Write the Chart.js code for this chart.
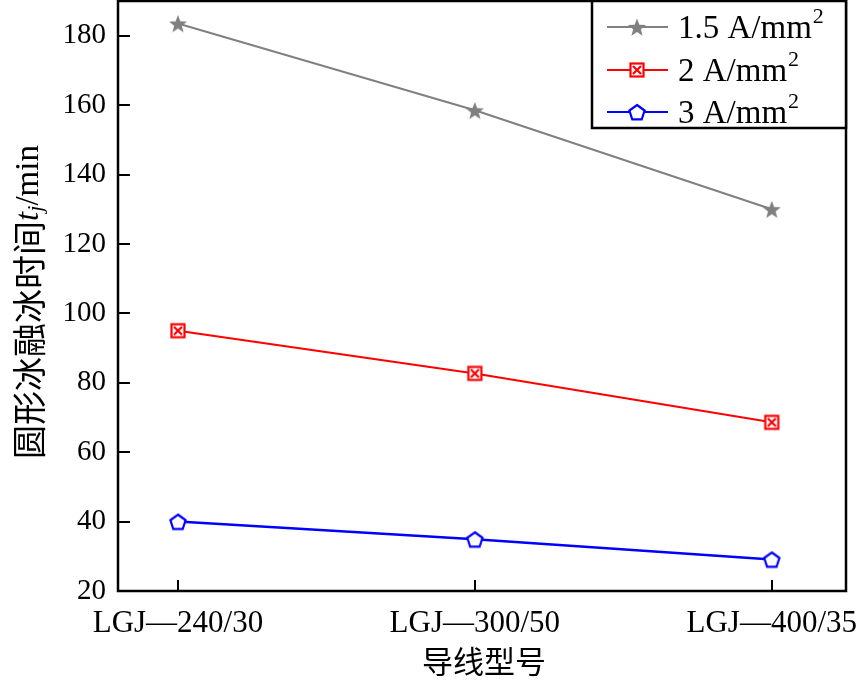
<!DOCTYPE html>
<html>
<head>
<meta charset="utf-8">
<script src="https://cdn.jsdelivr.net/npm/chart.js@4/dist/chart.umd.min.js"></script>
<style>
  body { margin: 0; background: #fff; }
  #wrap { width: 866px; height: 684px; }
</style>
</head>
<body>
<div id="wrap"><canvas id="basechart"></canvas></div>
<script>
// Conductor types (x categories)
const categories = ['LGJ—240/30', 'LGJ—300/50', 'LGJ—400/35'];
// Melting time t_j (min) per current density
const series15 = [183.5, 158.5, 130];
const series2 = [95, 82.7, 68.6];
const series3 = [40, 34.9, 29.1];
const seriesNames = ['1.5 A/mm', '2 A/mm', '3 A/mm'];
const yTicks = [20, 40, 60, 80, 100, 120, 140, 160, 180];

const colors = {
    gray: '#808080',
    red: '#ff0000',
    blue: '#0000ff'
};

const serif = '"Liberation Serif", "Times New Roman", serif';
const cjk = '"Noto Sans CJK SC", sans-serif';

// Build marker images used as point styles
function makeMarker(type) {
    const c = document.createElement('canvas');
    c.width = 22; c.height = 22;
    const g = c.getContext('2d');
    const cx = 11, cy = 11;
    if (type === 'star') {
        g.fillStyle = colors.gray;
        g.beginPath();
        for (let i = 0; i < 10; i++) {
            const r = i % 2 === 0 ? 9.5 : 4;
            const a = -Math.PI / 2 + i * Math.PI / 5;
            g.lineTo(cx + r * Math.cos(a), cy + 1 + r * Math.sin(a));
        }
        g.closePath();
        g.fill();
    } else if (type === 'boxx') {
        g.strokeStyle = colors.red;
        g.lineWidth = 2.2;
        g.fillStyle = '#fff';
        g.fillRect(4.5, 4.5, 13, 13);
        g.strokeRect(4.5, 4.5, 13, 13);
        g.beginPath();
        g.moveTo(7, 7); g.lineTo(15, 15);
        g.moveTo(15, 7); g.lineTo(7, 15);
        g.stroke();
    } else {
        g.strokeStyle = colors.blue;
        g.lineWidth = 2.2;
        g.fillStyle = '#fff';
        g.beginPath();
        for (let i = 0; i < 5; i++) {
            const a = -Math.PI / 2 + i * 2 * Math.PI / 5;
            g.lineTo(cx + 8 * Math.cos(a), cy + 1 + 8 * Math.sin(a));
        }
        g.closePath();
        g.fill();
        g.stroke();
    }
    return c;
}

const markers = [makeMarker('star'), makeMarker('boxx'), makeMarker('pent')];
const lineColors = [colors.gray, colors.red, colors.blue];

function toPoints(arr) {
    return arr.map((v, i) => ({ x: i, y: v }));
}

// Frame, inward ticks, axis titles and legend
const decorPlugin = {
    id: 'decor',
    afterDraw(chart) {
        const ctx = chart.ctx;
        const a = chart.chartArea;
        const xs = chart.scales.x, ys = chart.scales.y;
        ctx.save();
        ctx.strokeStyle = '#000';
        ctx.lineWidth = 2.5;
        ctx.strokeRect(a.left, a.top, a.right - a.left, a.bottom - a.top);

        // inward tick marks
        ctx.lineWidth = 2;
        ctx.beginPath();
        yTicks.forEach(v => {
            const y = Math.round(ys.getPixelForValue(v));
            ctx.moveTo(a.left, y); ctx.lineTo(a.left + 12, y);
        });
        categories.forEach((c, i) => {
            const x = Math.round(xs.getPixelForValue(i));
            ctx.moveTo(x, a.bottom); ctx.lineTo(x, a.bottom - 11);
        });
        ctx.stroke();

        // x title
        ctx.fillStyle = '#000';
        ctx.font = '31px ' + cjk;
        ctx.textAlign = 'center';
        ctx.textBaseline = 'middle';
        ctx.fillText('导线型号', (a.left + a.right) / 2 + 2, 661);

        // y title with subscript
        const parts = [
            { t: '圆形冰融冰时间', f: '34px ' + cjk, dy: 0 },
            { t: 't', f: 'italic 33px ' + serif, dy: 0 },
            { t: 'j', f: 'italic 22px ' + serif, dy: 7 },
            { t: '/min', f: '33px ' + serif, dy: 0 }
        ];
        let total = 0;
        parts.forEach(p => { ctx.font = p.f; p.w = ctx.measureText(p.t).width; total += p.w; });
        ctx.translate(29, 302);
        ctx.rotate(-Math.PI / 2);
        ctx.textAlign = 'left';
        ctx.textBaseline = 'middle';
        let px = -total / 2;
        parts.forEach(p => {
            ctx.font = p.f;
            ctx.fillText(p.t, px, p.dy);
            px += p.w;
        });
        ctx.setTransform(1, 0, 0, 1, 0, 0);

        // legend box
        const lx = 592, ly = a.top, lr = a.right, lb = 128;
        ctx.fillStyle = '#fff';
        ctx.fillRect(lx, ly, lr - lx, lb - ly);
        ctx.strokeStyle = '#000';
        ctx.lineWidth = 2.5;
        ctx.strokeRect(lx, ly, lr - lx, lb - ly);
        const rows = [27, 70, 112];
        seriesNames.forEach((name, i) => {
            const y = rows[i];
            ctx.strokeStyle = lineColors[i];
            ctx.lineWidth = 2;
            ctx.beginPath();
            ctx.moveTo(607, y); ctx.lineTo(668, y);
            ctx.stroke();
            ctx.drawImage(markers[i], 637 - 11, y - 11);
            ctx.fillStyle = '#000';
            ctx.font = '33px ' + serif;
            ctx.textAlign = 'left';
            ctx.textBaseline = 'middle';
            ctx.fillText(name, 678, y + 2);
            const w = ctx.measureText(name).width;
            ctx.font = '22px ' + serif;
            ctx.fillText('2', 678 + w + 1, y - 10);
        });
        ctx.restore();
    }
};

const datasets = [series15, series2, series3].map((s, i) => ({
    label: seriesNames[i] + '2',
    data: toPoints(s),
    borderColor: lineColors[i],
    backgroundColor: lineColors[i],
    borderWidth: i === 2 ? 2.5 : 2,
    pointStyle: markers[i],
    pointRadius: 9,
    tension: 0,
    fill: false
}));

const chart = new Chart(document.getElementById('basechart').getContext('2d'), {
    type: 'line',
    data: { datasets: datasets },
    plugins: [decorPlugin],
    options: {
        responsive: true,
        maintainAspectRatio: false,
        animation: false,
        layout: { padding: { top: 1, right: 20, bottom: 0, left: 0 }, autoPadding: false },
        plugins: {
            legend: { display: false },
            title: { display: false },
            tooltip: { enabled: false }
        },
        scales: {
            x: {
                type: 'linear',
                min: -0.202,
                max: 2.25,
                afterBuildTicks: s => { s.ticks = categories.map((c, i) => ({ value: i })); },
                afterFit: s => { s.height = 93; s.paddingLeft = 0; s.paddingRight = 0; },
                grid: { display: false, drawTicks: false },
                border: { display: false },
                ticks: {
                    padding: 14,
                    maxRotation: 0,
                    autoSkip: false,
                    color: '#000',
                    font: { family: serif, size: 31 },
                    callback: v => categories[v]
                }
            },
            y: {
                min: 20,
                max: 190,
                afterBuildTicks: s => { s.ticks = yTicks.map(v => ({ value: v })); },
                afterFit: s => { s.width = 118; s.paddingTop = 0; s.paddingBottom = 0; },
                grid: { display: false, drawTicks: false },
                border: { display: false },
                ticks: {
                    padding: 12,
                    color: '#000',
                    font: { family: serif, size: 29 }
                }
            }
        }
    }
});
</script>
</body>
</html>
